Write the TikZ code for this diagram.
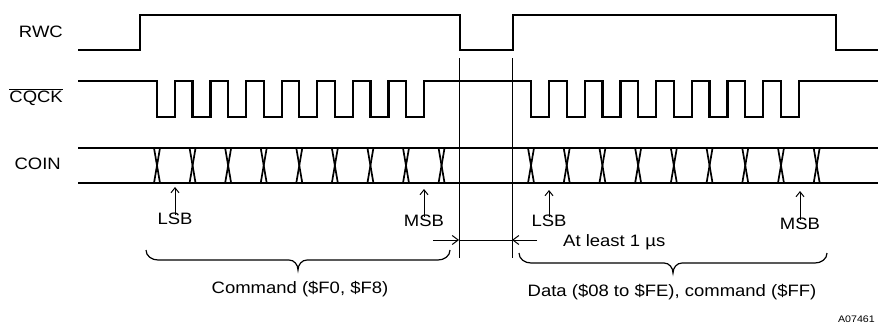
\documentclass[tikz,border=0pt]{standalone}
\usepackage{fontspec}
\setmainfont{Liberation Sans}[FakeStretch=1.12]
\usetikzlibrary{arrows.meta}
\tikzset{
  sig/.style={line width=2.2pt, line join=miter},
  xing/.style={line width=1.7pt},
  thin/.style={line width=1pt},
  lbl/.style={font=\fontsize{16.5}{18}\selectfont, inner sep=0pt},
  small/.style={font=\fontsize{9.5}{11}\selectfont, inner sep=0pt},
  upar/.style={line width=1pt, -{Straight Barb[length=5pt,width=8pt,line width=1pt]}},
  dimar/.style={line width=1pt, -{Straight Barb[length=6pt,width=9pt,line width=1pt]}},
  brc/.style={line width=1.2pt}
}
\begin{document}
\begin{tikzpicture}[x=1pt, y=-1pt]
\useasboundingbox (0,0) rectangle (878,324);
% labels
\node[lbl, anchor=east] (rwc) at (63,32) {RWC};
\node[lbl, anchor=east] (cqck) at (63,97) {$\overline{\mbox{CQCK}}$};
\node[lbl, anchor=east] (coin) at (61,164) {COIN};
% RWC
\draw[sig] (78,50) -- (140,50) -- (140,15) -- (460,15) -- (460,50) -- (513,50) -- (513,15) -- (836,15) -- (836,50) -- (878,50);
% CQCK
\draw[sig] (78,81)
  foreach \i in {0,...,7} { -- ({157+35.57*\i},81) -- ({157+35.57*\i},117) -- ({175+35.57*\i},117) -- ({175+35.57*\i},81) }
  foreach \i in {0,...,7} { -- ({531+35.71*\i},81) -- ({531+35.71*\i},117) -- ({549+35.71*\i},117) -- ({549+35.71*\i},81) }
  -- (878,81);
% COIN bus
\draw[sig] (78,148) -- (878,148);
\draw[sig] (78,183) -- (878,183);
\foreach \i in {0,...,8} {
  \draw[xing] ({157+35.57*\i-3},148) -- ({157+35.57*\i+3},183);
  \draw[xing] ({157+35.57*\i+3},148) -- ({157+35.57*\i-3},183);
  \draw[xing] ({531+35.71*\i-3},148) -- ({531+35.71*\i+3},183);
  \draw[xing] ({531+35.71*\i+3},148) -- ({531+35.71*\i-3},183);
}
% bit markers
\node[lbl] (lsb1) at (175,219) {LSB};
\node[lbl] (msb1) at (424,221) {MSB};
\node[lbl] (lsb2) at (549,221) {LSB};
\node[lbl] (msb2) at (800,224) {MSB};
\coordinate (a1) at (175,187);
\coordinate (a2) at (424,189);
\coordinate (a3) at (549,190);
\coordinate (a4) at (800,191);
\draw[upar] ([yshift=-2pt]lsb1.north) -- (a1);
\draw[upar] ([yshift=-2pt]msb1.north) -- (a2);
\draw[upar] ([yshift=-2pt]lsb2.north) -- (a3);
\draw[upar] ([yshift=-2pt]msb2.north) -- (a4);
% gap lines
\coordinate (v1t) at (459,58);
\coordinate (v1b) at (459,258);
\coordinate (v2t) at (512,58);
\coordinate (v2b) at (512,258);
\draw[thin] (v1t) -- (v1b);
\draw[thin] (v2t) -- (v2b);
\coordinate (d1) at (459,240);
\coordinate (d2) at (512,240);
\coordinate (dl) at (433,240);
\coordinate (dr) at (537,240);
\draw[dimar] (dl) -- (d1);
\draw[dimar] (dr) -- (d2);
\draw[thin] (d1) -- (d2);
\node[lbl, anchor=west] (gap) at (563,242) {At least 1 µs};
% braces
\coordinate (b1l) at (146,250);
\coordinate (b1t) at (298,270);
\coordinate (b1r) at (450,250);
\coordinate (b2l) at (519,253);
\coordinate (b2t) at (673,273);
\coordinate (b2r) at (827,253);
\draw[brc] (b1l) to[out=-90,in=180] ++(12,10) -- ([xshift=-9pt,yshift=10pt]b1t) to[out=0,in=90] (b1t)
  to[out=90,in=180] ([xshift=9pt,yshift=10pt]b1t) -- ([xshift=-12pt,yshift=-10pt]b1r) to[out=0,in=-90] (b1r);
\draw[brc] (b2l) to[out=-90,in=180] ++(12,10) -- ([xshift=-9pt,yshift=10pt]b2t) to[out=0,in=90] (b2t)
  to[out=90,in=180] ([xshift=9pt,yshift=10pt]b2t) -- ([xshift=-12pt,yshift=-10pt]b2r) to[out=0,in=-90] (b2r);
\node[lbl] (cmd) at (300,289) {Command (\$F0, \$F8)};
\node[lbl] (dat) at (672,292) {Data (\$08 to \$FE), command (\$FF)};
\node[small, anchor=east] (ref) at (875,319) {A07461};
\end{tikzpicture}
\end{document}
